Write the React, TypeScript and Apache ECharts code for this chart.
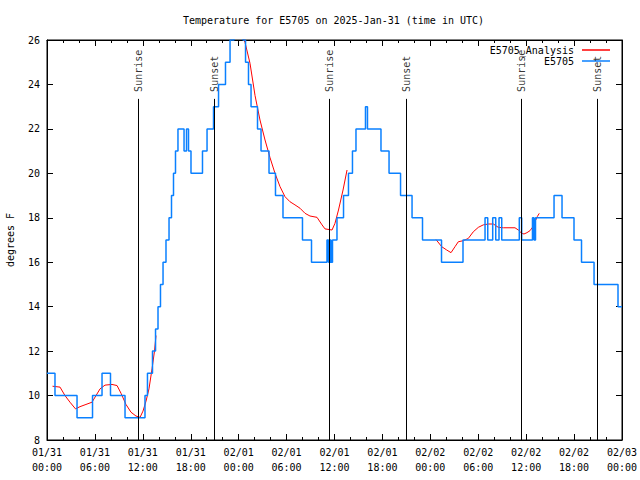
import React, { useEffect, useRef } from "react";
import * as echarts from "echarts";

const titleText = "Temperature for E5705 on 2025-Jan-31 (time in UTC)";

const xTickLabels = [
  "01/31\n00:00", "01/31\n06:00", "01/31\n12:00", "01/31\n18:00",
  "02/01\n00:00", "02/01\n06:00", "02/01\n12:00", "02/01\n18:00",
  "02/02\n00:00", "02/02\n06:00", "02/02\n12:00", "02/02\n18:00",
  "02/03\n00:00",
];

// observed temperature (step changes): hours since 01/31 00:00 UTC, degrees F
const obsHours = [
  0, 1.0, 3.76, 5.7, 6.89, 7.95, 9.77,
  12.27, 12.58, 13.21, 13.59, 13.9, 14.21, 14.53, 14.9, 15.28, 15.59, 15.84, 16.09, 16.4,
  17.16, 17.47, 17.72, 18.03, 19.47, 20.04, 20.85, 21.48, 22.35, 22.92, 23.42,
  24.54, 24.86, 25.23, 25.55, 26.36, 26.8, 27.8, 28.61, 29.55, 31.99, 33.12,
  35.06, 35.25, 35.44, 35.56, 35.75, 36.31, 37.13, 37.75, 38.25, 38.69,
  39.88, 40.13, 41.82, 42.83, 44.27, 45.71, 47.02, 49.4, 52.09,
  54.85, 55.19, 55.81, 56.19, 56.6, 56.94, 59.14, 59.44,
  60.79, 60.98, 61.17, 63.49, 64.49, 65.99, 66.93, 68.5, 71.5, 72.0,
];
const obsTemps = [
  11, 10, 9, 10, 11, 10, 9,
  10, 11, 12, 13, 14, 15, 16, 17, 18, 19, 20, 21, 22,
  21, 22, 21, 20, 21, 22, 23, 24, 25, 26, 27,
  26, 25, 24, 23, 22, 21, 20, 19, 18, 17, 16,
  17, 16, 17, 16, 17, 18, 19, 20, 21, 22,
  23, 22, 21, 20, 19, 18, 17, 16, 17,
  18, 17, 18, 17, 18, 17, 18, 17,
  18, 17, 18, 19, 18, 17, 16, 15, 14, 14,
];

// analysis curve, three pieces
const anaHours1 = [0.69, 1.63, 2.25, 2.88, 3.57, 4.13, 4.88, 5.63, 6.14, 6.64, 7.26, 8.14, 8.77, 9.27, 9.89, 10.52, 11.14, 11.65, 12.02, 12.4, 12.77, 13.15, 13.46, 13.65];
const anaTemps1 = [10.42, 10.38, 10.0, 9.7, 9.4, 9.5, 9.6, 9.7, 10.0, 10.3, 10.47, 10.5, 10.45, 10.1, 9.6, 9.25, 9.08, 9.02, 9.3, 9.75, 10.3, 11.2, 12.0, 12.7];
const anaHours2 = [24.54, 24.79, 25.42, 26.05, 26.67, 27.3, 27.93, 28.55, 29.18, 29.8, 30.43, 31.05, 31.68, 32.31, 32.93, 33.81, 34.44, 34.81, 35.69, 36.06, 36.5, 37.07, 37.57];
const anaTemps2 = [26.1, 25.9, 24.95, 23.5, 22.4, 21.5, 20.7, 20.0, 19.4, 18.95, 18.72, 18.58, 18.43, 18.2, 18.08, 18.02, 17.68, 17.5, 17.45, 17.75, 18.35, 19.25, 20.15];
const anaHours3 = [48.71, 49.42, 50.05, 50.59, 51.09, 51.5, 52.13, 52.75, 53.38, 54.01, 54.63, 55.26, 55.89, 56.51, 57.14, 58.6, 59.02, 59.44, 59.73, 60.1, 60.48, 60.85, 61.1, 61.39, 61.64];
const anaTemps3 = [17.02, 16.7, 16.55, 16.43, 16.7, 16.92, 16.97, 17.07, 17.37, 17.57, 17.68, 17.72, 17.72, 17.57, 17.55, 17.55, 17.45, 17.3, 17.27, 17.33, 17.42, 17.6, 17.82, 18.05, 18.2];

const sunNames = ["Sunrise", "Sunset", "Sunrise", "Sunset", "Sunrise", "Sunset"];
const sunHours = [11.43, 20.95, 35.35, 44.99, 59.39, 68.91];
const sunLineTop = 23.35;

const FONT = "DejaVu Sans Mono";
const BLUE = "#0a80ff";
const RED = "#ff0000";

const pairs = (xs: number[], ys: number[]) => xs.map((x, i) => [x, ys[i]]);

export default function App() {
  const ref = useRef<HTMLDivElement>(null);
  useEffect(() => {
    if (!ref.current) return;
    const chart = echarts.init(ref.current, undefined, { renderer: "svg" });
    const txt = { fontFamily: FONT, fontSize: 10, color: "#000" };
    const xBase = {
      type: "value",
      min: 0,
      max: 72,
      interval: 6,
      axisLine: { show: true, onZero: false, lineStyle: { color: "#000", width: 1 } },
      axisTick: { show: true, inside: true, length: 6, lineStyle: { color: "#000" } },
      minorTick: { show: true, splitNumber: 3, length: 3, lineStyle: { color: "#000" } },
      splitLine: { show: false },
      minorSplitLine: { show: false },
    };
    const yBase = {
      type: "value",
      min: 8,
      max: 26,
      interval: 2,
      axisLine: { show: true, onZero: false, lineStyle: { color: "#000", width: 1 } },
      axisTick: { show: true, inside: true, length: 6, lineStyle: { color: "#000" } },
      splitLine: { show: false },
    };
    const redSeries = [pairs(anaHours1, anaTemps1), pairs(anaHours2, anaTemps2), pairs(anaHours3, anaTemps3)].map((d) => ({
      name: "E5705_Analysis",
      type: "line",
      data: d,
      symbol: "none",
      lineStyle: { color: RED, width: 1 },
      itemStyle: { color: RED },
      clip: true,
      z: 2,
    }));
    chart.setOption({
      animation: false,
      backgroundColor: "#fff",
      title: {
        text: titleText,
        left: 178,
        top: 10,
        textStyle: { ...txt, fontWeight: "normal" },
      },
      legend: {
        data: [
          { name: "E5705_Analysis", icon: "rect" },
          { name: "E5705", icon: "rect" },
        ],
        orient: "vertical",
        right: 30,
        top: 45,
        padding: 0,
        align: "right",
        itemWidth: 28,
        itemHeight: 1.5,
        itemGap: 1,
        textStyle: { ...txt, padding: [0, 3, 0, 0] },
      },
      grid: {
        left: 47,
        right: 18,
        top: 40,
        bottom: 40,
        show: true,
        borderColor: "#000",
        borderWidth: 1,
        containLabel: false,
        outerBoundsMode: "none",
      },
      xAxis: [
        {
          ...xBase,
          position: "bottom",
          axisLabel: {
            ...txt,
            margin: 5,
            lineHeight: 15,
            showMinLabel: true,
            showMaxLabel: true,
            formatter: (v: number) => xTickLabels[Math.round(v / 6)] ?? "",
          },
        },
        { ...xBase, position: "top", axisLabel: { show: false } },
      ],
      yAxis: [
        {
          ...yBase,
          position: "left",
          name: "degrees F",
          nameLocation: "middle",
          nameGap: 32,
          nameTextStyle: txt,
          axisLabel: { ...txt, margin: 7 },
        },
        { ...yBase, position: "right", axisLabel: { show: false } },
      ],
      series: [
        ...redSeries,
        {
          name: "E5705",
          type: "line",
          step: "end",
          data: pairs(obsHours, obsTemps),
          symbol: "none",
          lineStyle: { color: BLUE, width: 1.5 },
          itemStyle: { color: BLUE },
          clip: true,
          z: 3,
          markLine: {
            silent: true,
            symbol: "none",
            label: { show: false },
            lineStyle: { color: "#000", width: 1, type: "solid" },
            data: sunHours.map((h) => [{ coord: [h, 8] }, { coord: [h, sunLineTop] }]),
          },
        },
        {
          name: "sun",
          type: "scatter",
          silent: true,
          symbolSize: 0,
          itemStyle: { color: "transparent" },
          data: sunHours.map((h, i) => ({ value: [h, sunLineTop], name: sunNames[i] })),
          label: {
            show: true,
            formatter: "{b}",
            position: "top",
            distance: 7,
            rotate: 90,
            align: "left",
            verticalAlign: "middle",
            ...txt,
          },
          z: 4,
        },
      ],
    });
    return () => chart.dispose();
  }, []);
  return (
    <div
      ref={ref}
      style={{ position: "fixed", left: 0, top: 0, width: 640, height: 480, background: "#fff" }}
    />
  );
}
